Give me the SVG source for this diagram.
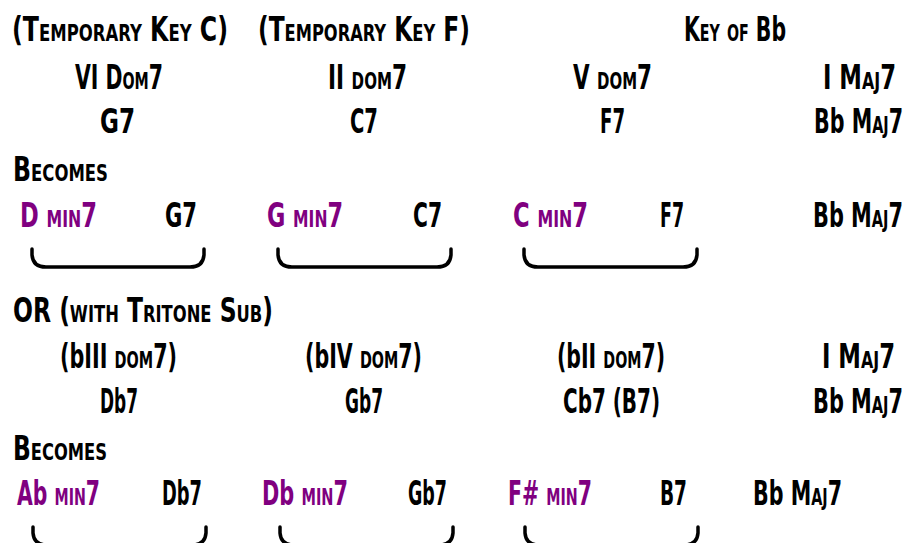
<svg xmlns="http://www.w3.org/2000/svg" width="908" height="543" viewBox="0 0 908 543">
<style>
text{font-family:"Liberation Sans Narrow","DejaVu Sans Condensed","Liberation Sans",sans-serif;font-weight:bold;font-size:33px;font-variant:small-caps;fill:#000}
.p{fill:#800080}
.fl{font-variant:normal}
.br{fill:none;stroke:#000;stroke-width:3.5;stroke-linecap:round;stroke-linejoin:round}
</style>
<rect width="908" height="543" fill="#fff"/>
<g id="row-keys">
<text x="12" y="41" textLength="216" lengthAdjust="spacingAndGlyphs">(Temporary Key C)</text>
<text x="258" y="41" textLength="212" lengthAdjust="spacingAndGlyphs">(Temporary Key F)</text>
<text x="684" y="41" textLength="102" lengthAdjust="spacingAndGlyphs">Key of B<tspan class="fl">b</tspan></text>
</g>
<g id="row-functions">
<text x="75" y="89" textLength="88" lengthAdjust="spacingAndGlyphs">VI Dom7</text>
<text x="328" y="89" textLength="79" lengthAdjust="spacingAndGlyphs">II dom7</text>
<text x="573" y="89" textLength="79" lengthAdjust="spacingAndGlyphs">V dom7</text>
<text x="823" y="89" textLength="73" lengthAdjust="spacingAndGlyphs">I Maj7</text>
</g>
<g id="row-chords">
<text x="100" y="133" textLength="35" lengthAdjust="spacingAndGlyphs">G7</text>
<text x="350" y="133" textLength="28" lengthAdjust="spacingAndGlyphs">C7</text>
<text x="600" y="133" textLength="25" lengthAdjust="spacingAndGlyphs">F7</text>
<text x="814" y="133" textLength="89" lengthAdjust="spacingAndGlyphs">B<tspan class="fl">b</tspan> Maj7</text>
</g>
<g id="becomes-1">
<text x="13" y="181" textLength="95" lengthAdjust="spacingAndGlyphs">Becomes</text>
</g>
<g id="row-ii-v">
<text class="p" x="20" y="227" textLength="77" lengthAdjust="spacingAndGlyphs">D min7</text>
<text x="165" y="227" textLength="32" lengthAdjust="spacingAndGlyphs">G7</text>
<text class="p" x="267" y="227" textLength="76" lengthAdjust="spacingAndGlyphs">G min7</text>
<text x="413" y="227" textLength="29" lengthAdjust="spacingAndGlyphs">C7</text>
<text class="p" x="513" y="227" textLength="75" lengthAdjust="spacingAndGlyphs">C min7</text>
<text x="660" y="227" textLength="24" lengthAdjust="spacingAndGlyphs">F7</text>
<text x="813" y="227" textLength="90" lengthAdjust="spacingAndGlyphs">B<tspan class="fl">b</tspan> Maj7</text>
</g>
<g id="row-or">
<text x="13" y="322" textLength="260" lengthAdjust="spacingAndGlyphs">OR (with Tritone Sub)</text>
</g>
<g id="row-tritone-functions">
<text x="60" y="368" textLength="117" lengthAdjust="spacingAndGlyphs">(<tspan class="fl">b</tspan>III dom7)</text>
<text x="305" y="368" textLength="117" lengthAdjust="spacingAndGlyphs">(<tspan class="fl">b</tspan>IV dom7)</text>
<text x="557" y="368" textLength="108" lengthAdjust="spacingAndGlyphs">(<tspan class="fl">b</tspan>II dom7)</text>
<text x="822" y="368" textLength="73" lengthAdjust="spacingAndGlyphs">I Maj7</text>
</g>
<g id="row-tritone-chords">
<text x="100" y="413" textLength="38" lengthAdjust="spacingAndGlyphs">D<tspan class="fl">b</tspan>7</text>
<text x="345" y="413" textLength="38" lengthAdjust="spacingAndGlyphs">G<tspan class="fl">b</tspan>7</text>
<text x="563" y="413" textLength="97" lengthAdjust="spacingAndGlyphs">C<tspan class="fl">b</tspan>7 (B7)</text>
<text x="813" y="413" textLength="90" lengthAdjust="spacingAndGlyphs">B<tspan class="fl">b</tspan> Maj7</text>
</g>
<g id="becomes-2">
<text x="13" y="460" textLength="94" lengthAdjust="spacingAndGlyphs">Becomes</text>
</g>
<g id="row-tritone-ii-v">
<text class="p" x="17" y="505" textLength="83" lengthAdjust="spacingAndGlyphs">A<tspan class="fl">b</tspan> min7</text>
<text x="162" y="505" textLength="40" lengthAdjust="spacingAndGlyphs">D<tspan class="fl">b</tspan>7</text>
<text class="p" x="262" y="505" textLength="86" lengthAdjust="spacingAndGlyphs">D<tspan class="fl">b</tspan> min7</text>
<text x="408" y="505" textLength="39" lengthAdjust="spacingAndGlyphs">G<tspan class="fl">b</tspan>7</text>
<text class="p" x="508" y="505" textLength="84" lengthAdjust="spacingAndGlyphs">F# min7</text>
<text x="660" y="505" textLength="27" lengthAdjust="spacingAndGlyphs">B7</text>
<text x="753" y="505" textLength="89" lengthAdjust="spacingAndGlyphs">B<tspan class="fl">b</tspan> Maj7</text>
</g>
<g id="connectors">
<path class="br" d="M32,249 L32,255 Q33,267 46,267 L190,267 Q203,267 204,255 L204,249"/>
<path class="br" d="M278,249 L278,255 Q279,267 292,267 L437,267 Q450,267 451,255 L451,249"/>
<path class="br" d="M524,249 L524,255 Q525,267 538,267 L683,267 Q696,267 697,255 L697,249"/>
<path class="br" d="M33,527 L33,533 Q34,545 47,545 L192,545 Q205,545 206,533 L206,527"/>
<path class="br" d="M280,527 L280,533 Q281,545 294,545 L439,545 Q452,545 453,533 L453,527"/>
<path class="br" d="M525,527 L525,533 Q526,545 539,545 L684,545 Q697,545 698,533 L698,527"/>
</g>
</svg>
